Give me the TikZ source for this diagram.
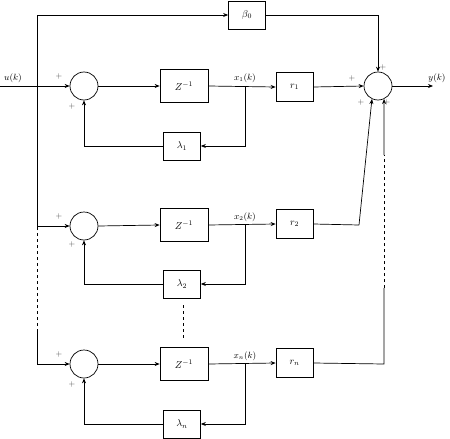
\documentclass[tikz,border=0pt]{standalone}
\usetikzlibrary{arrows.meta,calc}
\begin{document}
\begin{tikzpicture}[x=1pt,y=-1pt,
  line width=0.7pt,
  >={Stealth[length=5pt,width=4pt]},
  sumnode/.style={circle,draw,minimum size=28pt,inner sep=0pt},
  zbox/.style={draw,minimum width=48pt,minimum height=33pt,inner sep=0pt,font=\normalsize},
  gbox/.style={draw,minimum width=37pt,minimum height=28pt,inner sep=0pt,font=\normalsize},
  lbl/.style={font=\small,inner sep=0pt},
  sgn/.style={font=\footnotesize,inner sep=0pt,text=black!70}]
\useasboundingbox (0,0) rectangle (450,439);
% sum nodes
\node[sumnode] (s1) at (84,86) {};
\node[sumnode] (s2) at (84,226) {};
\node[sumnode] (sn) at (84,364) {};
\node[sumnode] (S) at (378,86) {};
% delay boxes
\node[zbox] (z1) at (184,86) {$Z^{-1}$};
\node[zbox] (z2) at (184,225) {$Z^{-1}$};
\node[zbox] (zn) at (184,364) {$Z^{-1}$};
% feedback boxes
\node[gbox] (l1) at (182,146) {$\lambda_1$};
\node[gbox] (l2) at (182,284) {$\lambda_2$};
\node[gbox] (ln) at (182,424) {$\lambda_n$};
% output gains
\node[gbox,minimum height=29pt] (r1) at (294.5,87) {$r_1$};
\node[gbox,minimum height=29pt] (r2) at (294.5,224) {$r_2$};
\node[gbox,minimum height=29pt] (rn) at (294.5,363) {$r_n$};
\node[gbox] (b0) at (247,15) {$\beta_0$};
% coordinates
\coordinate (in) at (0,86);
\coordinate (out) at (433,86);
\coordinate (vt) at (37,15);
\coordinate (v2) at (37,226);
\coordinate (vd1) at (37,227);
\coordinate (vd2) at (37,332);
\coordinate (vn) at (37,364);
\coordinate (bt) at (378,15);
\coordinate (x1) at (245,86);
\coordinate (x2) at (245,225);
\coordinate (xn) at (245,364);
\coordinate (rk2) at (359,225);
\coordinate (rkn) at (384,364);
\coordinate (rd1) at (384,288);
\coordinate (rd2) at (384,155);
\coordinate (md1) at (183,305);
\coordinate (md2) at (183,339);
% input and left bus
\draw[->] (in) -- (s1.west);
\draw (vn) -- (vd2);
\draw[dashed] (vd2) -- (vd1);
\draw (vd1) -- (vt);
\draw[->] (vt) -- (b0.west);
\draw[->] (v2) -- (s2.west);
\draw[->] (vn) -- (sn.west);
% forward paths
\draw[->] (s1.east) -- (z1.west);
\draw[->] (s2.east) -- (z2.west);
\draw[->] (sn.east) -- (zn.west);
\draw[->] (z1.east) -- (r1.west);
\draw[->] (z2.east) -- (r2.west);
\draw[->] (zn.east) -- (rn.west);
% feedback loops
\draw[->] (x1) |- (l1.east);
\draw[->] (x2) |- (l2.east);
\draw[->] (xn) |- (ln.east);
\draw[->] (l1.west) -| (s1.south);
\draw[->] (l2.west) -| (s2.south);
\draw[->] (ln.west) -| (sn.south);
\draw[dashed] (md1) -- (md2);
% state labels
\node[lbl,anchor=base] at (245,80) {$x_1(k)$};
\node[lbl,anchor=base] at (245,219) {$x_2(k)$};
\node[lbl,anchor=base] at (245,358) {$x_n(k)$};
\node[lbl,anchor=base] at (13,80) {$u(k)$};
\node[lbl,anchor=base] at (437,80) {$y(k)$};
% to output sum
\draw (b0.east) -- (bt);
\draw[->] (bt) -- (S.north);
\draw[->] (r1.east) -- (S.west);
\draw (r2.east) -- (rk2);
\draw[->] (rk2) -- (S.-115);
\draw (rn.east) -- (rkn) -- (rd1);
\draw[dashed] (rd1) -- (rd2);
\draw[->] (rd2) -- (S.-65);
\draw[->] (S.east) -- (out);
% signs
\node[sgn] at (59,76) {$+$};
\node[sgn] at (72,106) {$+$};
\node[sgn] at (59,216) {$+$};
\node[sgn] at (72,244) {$+$};
\node[sgn] at (59,354) {$+$};
\node[sgn] at (72,384) {$+$};
\node[sgn] at (352,78) {$+$};
\node[sgn] at (361,102) {$+$};
\node[sgn] at (383,67) {$+$};
\node[sgn] at (387,102) {$+$};
\end{tikzpicture}
\end{document}
